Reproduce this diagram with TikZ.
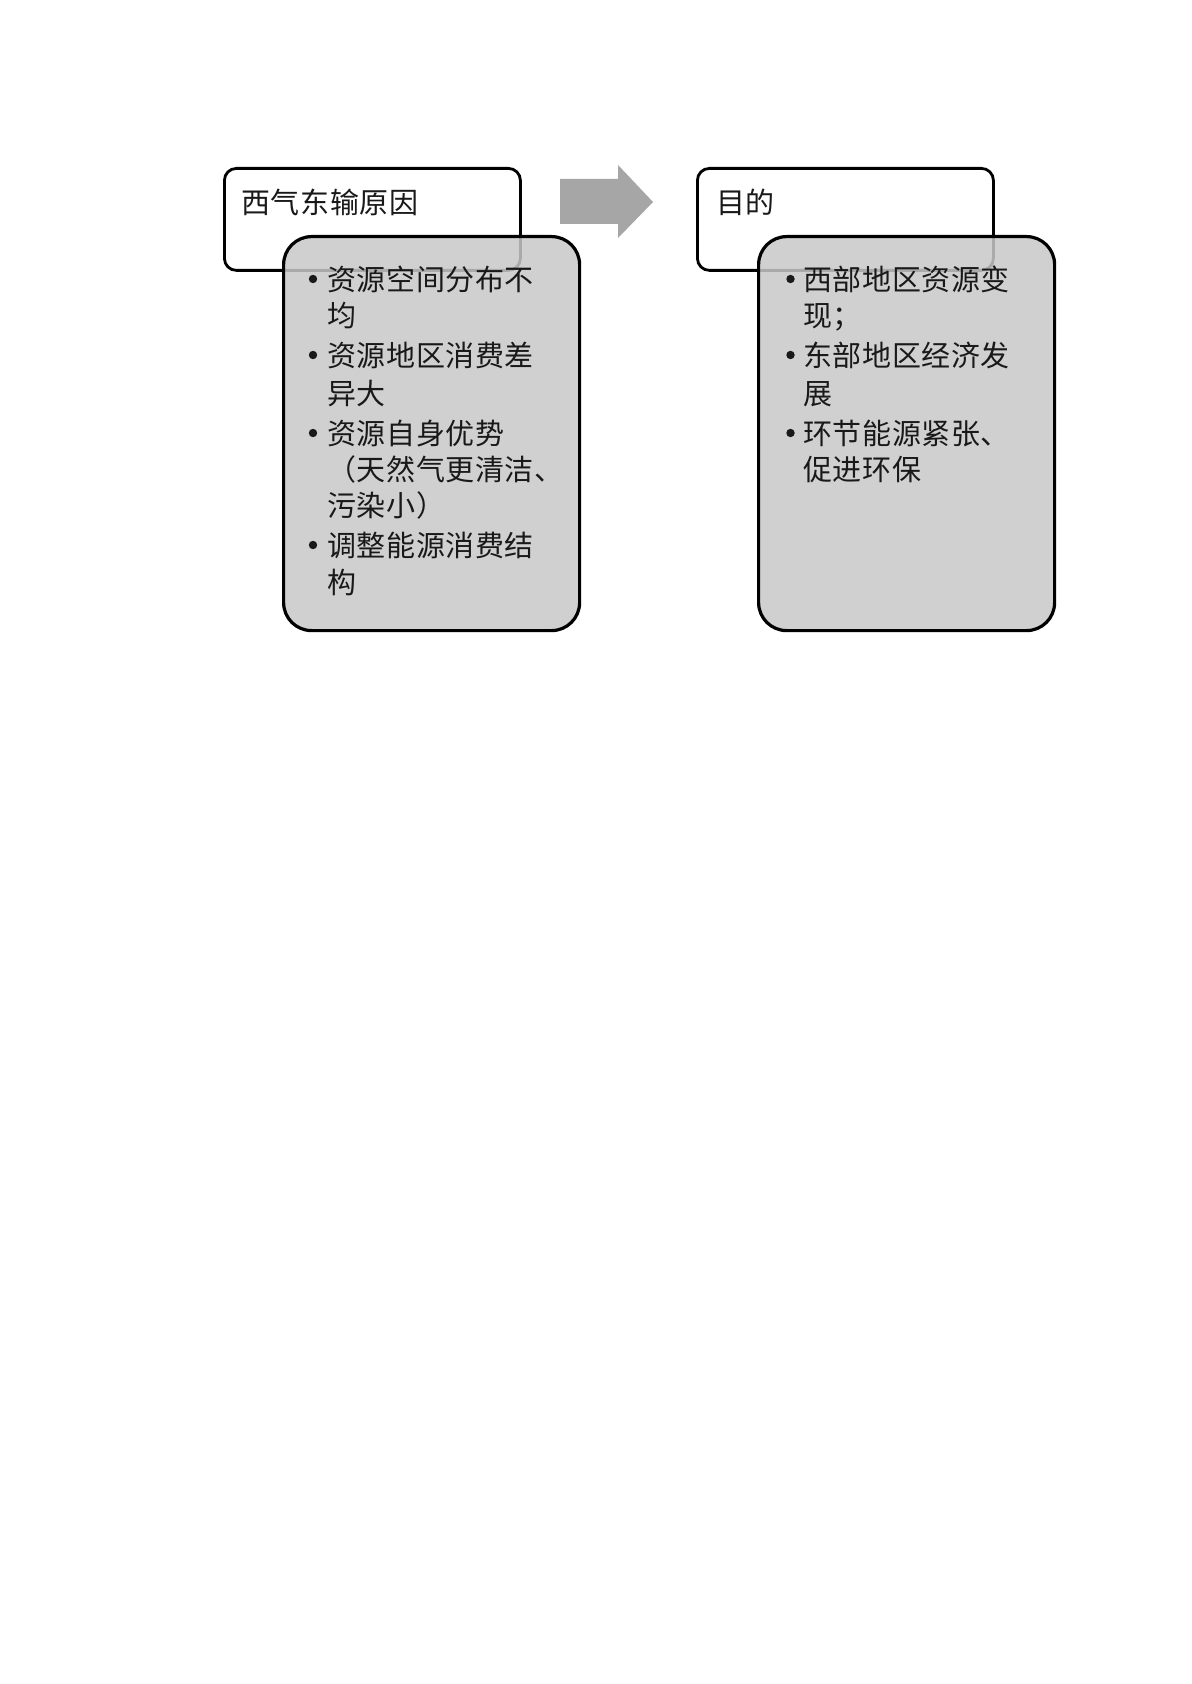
\documentclass[tikz,border=0pt]{standalone}
\usepackage{fontspec}
\setmainfont{Noto Sans CJK SC}[LetterSpace=2]
\definecolor{boxgray}{RGB}{200,200,200}
\definecolor{arrowgray}{RGB}{166,166,166}
\begin{document}
\begin{tikzpicture}[x=0.5pt,y=-0.5pt,
  wbox/.style={draw=black, line width=1.4pt, rounded corners=6pt, fill=white, anchor=north west,
    minimum width=148pt, minimum height=51pt, inner sep=0pt},
  gbox/.style={draw=black, line width=1.6pt, rounded corners=14pt, fill=boxgray, fill opacity=0.85,
    draw opacity=1, anchor=north west, minimum width=148pt, minimum height=197pt, inner sep=0pt},
  txt/.style={anchor=base west, inner sep=0pt, font=\fontsize{14.5}{17}\selectfont, text=black!90},
  dot/.style={circle, fill=black!90, inner sep=0pt, minimum size=4.2pt}]
\useasboundingbox (0,0) rectangle (1191,1684);
\fill[white] (0,0) rectangle (1191,1684);

% left group
\node[wbox] (w1) at (223,167) {};
\node[gbox] (g1) at (282,235) {};
\node[txt] (h1) at (241,213.5) {西气东输原因};

\node[dot] (d1) at (313,279) {};
\node[txt] (a1) at (327,290.5) {资源空间分布不};
\node[txt] (a2) at (327,327) {均};
\node[dot] (d2) at (313,355) {};
\node[txt] (a3) at (327,366.5) {资源地区消费差};
\node[txt] (a4) at (327,404.5) {异大};
\node[dot] (d3) at (313,433) {};
\node[txt] (a5) at (327,444.5) {资源自身优势};
\node[txt] (a6) at (327,480.5) {（天然气更清洁、};
\node[txt] (a7) at (327,516.5) {污染小）};
\node[dot] (d4) at (313,545) {};
\node[txt] (a8) at (327,556.5) {调整能源消费结};
\node[txt] (a9) at (327,593.5) {构};

% arrow
\fill[arrowgray] (560,179) -- (618,179) -- (618,165) -- (653,202) -- (618,238) -- (618,224) -- (560,224) -- cycle;

% right group
\node[wbox] (w2) at (696,167) {};
\node[gbox] (g2) at (757,235) {};
\node[txt] (h2) at (716,213.5) {目的};

\node[dot] (e1) at (790.5,279) {};
\node[txt] (b1) at (803,290.5) {西部地区资源变};
\node[txt] (b2) at (803,327) {现；};
\node[dot] (e2) at (790.5,355) {};
\node[txt] (b3) at (803,366.5) {东部地区经济发};
\node[txt] (b4) at (803,404.5) {展};
\node[dot] (e3) at (790.5,433) {};
\node[txt] (b5) at (803,444.5) {环节能源紧张、};
\node[txt] (b6) at (803,480.5) {促进环保};
\end{tikzpicture}
\end{document}
